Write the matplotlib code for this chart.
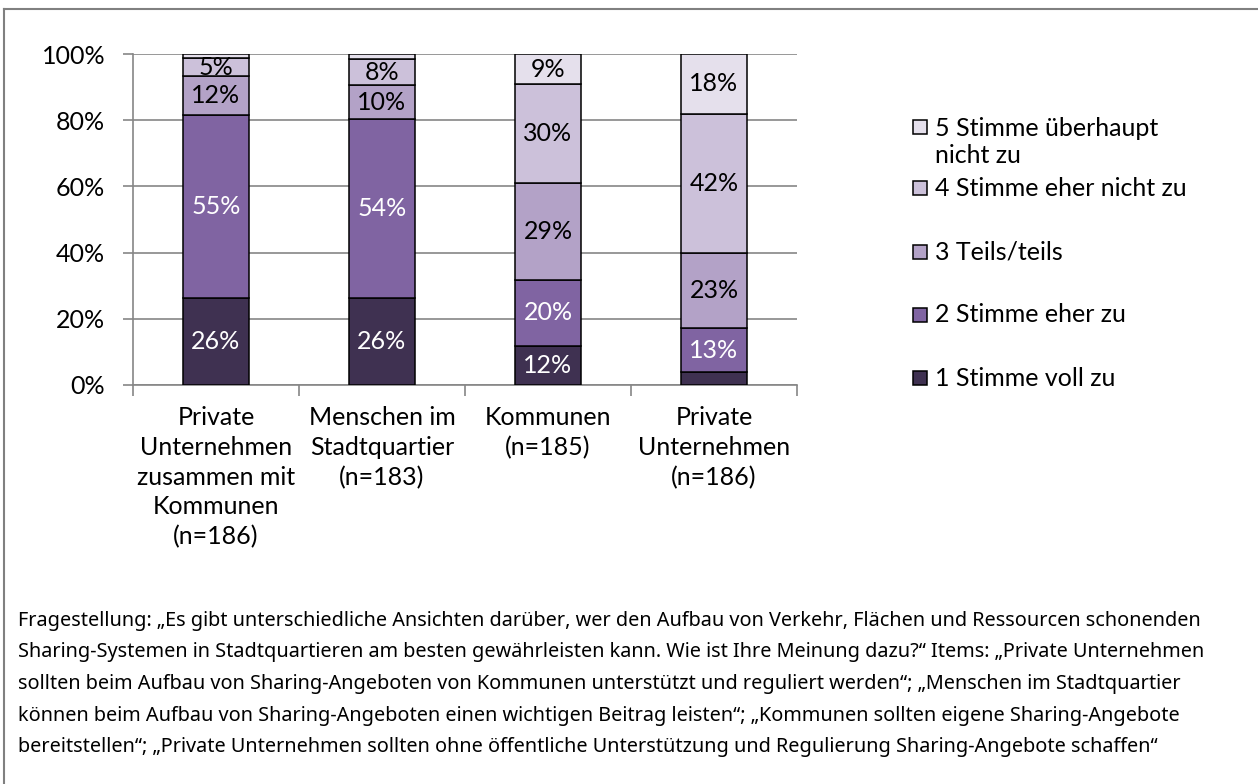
import numpy as np
import matplotlib.pyplot as plt
from matplotlib.lines import Line2D
from matplotlib.patches import Rectangle

# data (percent)
groups = ['Private\nUnternehmen\nzusammen mit\nKommunen\n(n=186)',
          'Menschen im\nStadtquartier\n(n=183)',
          'Kommunen\n(n=185)',
          'Private\nUnternehmen\n(n=186)']
answers = ['1 Stimme voll zu', '2 Stimme eher zu', '3 Teils/teils',
           '4 Stimme eher nicht zu', '5 Stimme überhaupt\nnicht zu']
voll_zu = [26.4, 26.3, 11.8, 3.9]
eher_zu = [55.2, 54.1, 20.0, 13.2]
teils = [11.8, 10.1, 29.2, 22.9]
eher_nicht = [5.3, 8.0, 29.8, 41.9]
gar_nicht = [1.3, 1.5, 9.2, 18.1]
series = [voll_zu, eher_zu, teils, eher_nicht, gar_nicht]

colors = ['#3f3151', '#8064a2', '#b3a2c7', '#ccc1da', '#e5e0ec']
txtcol = ['white', 'white', 'black', 'black', 'black']

caption = ('Fragestellung: „Es gibt unterschiedliche Ansichten darüber, wer den Aufbau von Verkehr, Flächen und Ressourcen schonenden\n'
           'Sharing-Systemen in Stadtquartieren am besten gewährleisten kann. Wie ist Ihre Meinung dazu?“ Items: „Private Unternehmen\n'
           'sollten beim Aufbau von Sharing-Angeboten von Kommunen unterstützt und reguliert werden“; „Menschen im Stadtquartier\n'
           'können beim Aufbau von Sharing-Angeboten einen wichtigen Beitrag leisten“; „Kommunen sollten eigene Sharing-Angebote\n'
           'bereitstellen“; „Private Unternehmen sollten ohne öffentliche Unterstützung und Regulierung Sharing-Angebote schaffen“')

plt.rcParams['font.family'] = ['Lato', 'DejaVu Sans']
fs = 18

fig = plt.figure(figsize=(12.58, 7.84), dpi=100)
ax = fig.add_axes([133/1258, 1-385/784, 664/1258, 331/784])

x = np.arange(len(groups))
bottom = np.zeros(len(groups))
for vals, c, tc in zip(series, colors, txtcol):
    vals = np.array(vals)
    ax.bar(x, vals, 0.4, bottom=bottom, color=c, edgecolor='black', linewidth=1.1, zorder=3)
    for xi, b, v in zip(x, bottom, vals):
        if v >= 4.5:
            ax.text(xi, b + v/2, '%d%%' % round(v), ha='center', va='center',
                    color=tc, fontsize=fs, zorder=4)
    bottom += vals

ax.set_xlim(-0.5, 3.5)
ax.set_ylim(0, 100)
ax.set_yticks(range(0, 101, 20))
ax.set_yticklabels(['%d%%' % v for v in range(0, 101, 20)])
ax.yaxis.grid(True, color='#868686', linewidth=1.2, zorder=0)
ax.set_xticks(np.arange(-0.5, 3.6, 1))
ax.set_xticklabels([])
ax.set_xticks(x, minor=True)
ax.set_xticklabels(groups, minor=True, linespacing=1.36)
ax.tick_params(axis='x', which='minor', length=0, pad=15, labelsize=fs)
ax.tick_params(axis='x', which='major', length=8, color='#868686', width=1.2)
ax.tick_params(axis='y', length=7, color='#868686', width=1.2, pad=13, labelsize=fs)
for s in ['top', 'right']:
    ax.spines[s].set_visible(False)
for s in ['left', 'bottom']:
    ax.spines[s].set_color('#868686')
    ax.spines[s].set_linewidth(1.2)

# legend, drawn as in the original (top entry = 5)
leg_y = [142, 188, 252, 315, 378]
for lab, c, yy in zip(answers[::-1], colors[::-1], leg_y):
    ny = 1 - yy/784
    if '\n' in lab:
        first = 1 - 127/784
    else:
        first = ny
    fig.patches.append(Rectangle((913/1258, first - 7/784), 14/1258, 14/784,
                                 transform=fig.transFigure, facecolor=c,
                                 edgecolor='black', linewidth=1.1))
    fig.text(935/1258, ny, lab, fontsize=fs, va='center', ha='left', linespacing=1.2)

fig.text(18/1258, 1-684/784, caption, fontsize=14.3, va='center', ha='left',
         linespacing=1.77, family=['Noto Sans', 'DejaVu Sans'])

# frame lines
fig.add_artist(Line2D([4/1258, 1], [1-9/784, 1-9/784], color='#808080', linewidth=1.5))
fig.add_artist(Line2D([4/1258, 4/1258], [1-9/784, 0], color='#808080', linewidth=1.5))

fig.savefig('out.png', dpi=100)
